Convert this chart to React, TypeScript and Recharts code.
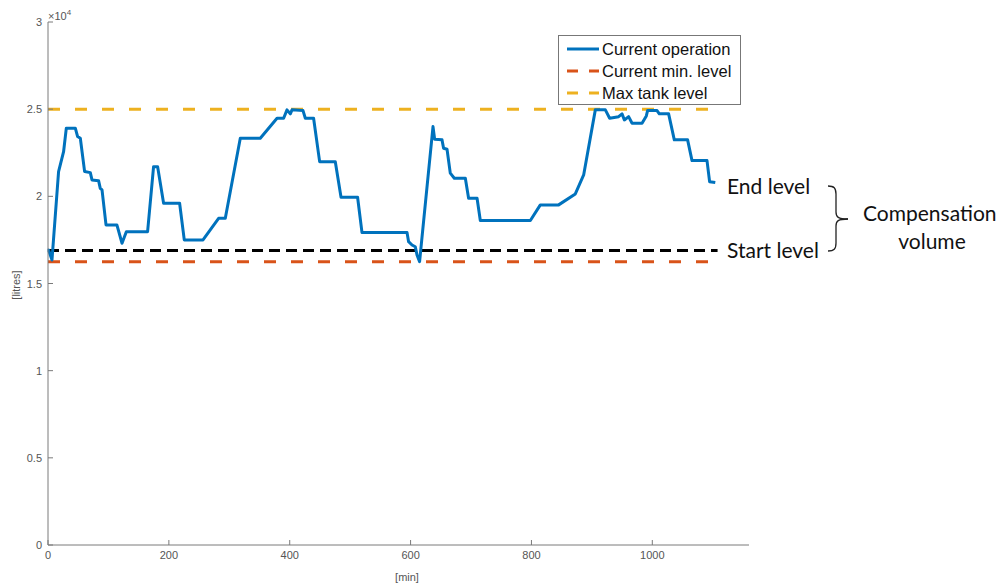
import React from 'react';
import { LineChart, Line, XAxis, YAxis } from 'recharts';

// time axis [min] and tank volume [litres]
const timeMin = [
  0, 1, 6.6, 17.5, 25.8, 30.3, 45.2, 49, 53.5, 60.6, 70, 72.8, 83.7, 86.5, 89.4, 96, 114,
  122.5, 129.6, 164.8, 174.7, 181.4, 191.3, 217.8, 225.5, 256.5, 282.3, 293.4, 318.2,
  351.3, 379, 389.9, 395.5, 401, 403.8, 422, 425.8, 439.5, 449.5, 475.4, 484.9, 512.3,
  519.6, 594.1, 596.7, 602.4, 607.8, 610.6, 614.9, 637.1, 639.8, 652, 654.6, 660.3,
  665.7, 672.4, 690.6, 696, 710, 715.4, 798.2, 814.7, 845, 872.6, 886.4, 905.7, 922.3,
  929.4, 944.3, 949.9, 953.8, 960.8, 966.5, 983, 990.1, 992.2, 1007.8, 1011.6, 1027,
  1036.4, 1058.4, 1065.7, 1090.5, 1094.8, 1104.2,
];
const tankLitres = [
  16900, 16920, 16350, 21420, 22560, 23910, 23910, 23430, 23330, 21420, 21360, 20940,
  20900, 20460, 20370, 18360, 18360, 17310, 17970, 17970, 21700, 21700, 19600, 19600,
  17500, 17500, 18740, 18740, 23330, 23330, 24480, 24480, 24960, 24730, 24960, 24920,
  24480, 24480, 21990, 21990, 19950, 19950, 17920, 17920, 17400, 17210, 17110, 16640,
  16250, 24000, 23280, 23240, 22760, 22700, 21330, 21040, 21040, 19890, 19890, 18610,
  18610, 19510, 19510, 20140, 21230, 24960, 24960, 24480, 24570, 24730, 24380, 24570,
  24190, 24190, 24610, 24920, 24920, 24730, 24730, 23240, 23240, 22050, 22050, 20840,
  20790,
];

const minLevel = 16250;
const maxLevel = 25000;
const startLevel = 16900;
const levelSpan = [0, 1100];
const startSpan = [0, 1108];

const xTicks = [0, 200, 400, 600, 800, 1000];
const yTicks = [0, 5000, 10000, 15000, 20000, 25000, 30000];

const operation = timeMin.map((t, i) => ({ t, v: tankLitres[i] }));
const flat = (span: number[], v: number) => span.map((t) => ({ t, v }));

const legendItems = [
  { name: 'Current operation', color: '#0072BD', dash: undefined },
  { name: 'Current min. level', color: '#D95319', dash: '11 11' },
  { name: 'Max tank level', color: '#EDB120', dash: '11 11' },
];

const axisColor = '#7a7a7a';
const tickFont = { fontFamily: 'Liberation Sans, Arial, sans-serif', fontSize: 11, fill: '#555' };

const XTick = (props: any) => {
  const { x, y, payload } = props;
  return (
    <g>
      <line x1={x} y1={y} x2={x} y2={y - 5} stroke={axisColor} />
      <text x={x} y={y + 14} textAnchor="middle" {...tickFont}>
        {payload.value}
      </text>
    </g>
  );
};

const YTick = (props: any) => {
  const { x, y, payload } = props;
  return (
    <g>
      <line x1={x} y1={y} x2={x + 5} y2={y} stroke={axisColor} />
      <text x={x - 6} y={y + 4} textAnchor="end" {...tickFont}>
        {payload.value / 10000}
      </text>
    </g>
  );
};

const textFont = 'Lato, "Open Sans", sans-serif';

export default function App() {
  return (
    <div style={{ position: 'absolute', left: 0, top: 0, width: 1006, height: 587, background: '#fff' }}>
      <LineChart
        width={1006}
        height={587}
        margin={{ top: 22, right: 257, bottom: 41, left: 47 }}
      >
        <XAxis
          type="number"
          dataKey="t"
          domain={[0, 1160]}
          ticks={xTicks}
          height={1}
          tickSize={0}
          tickMargin={0}
          stroke={axisColor}
          tick={<XTick />}
          allowDuplicatedCategory={false}
        />
        <YAxis
          type="number"
          domain={[0, 30000]}
          ticks={yTicks}
          width={1}
          tickSize={0}
          tickMargin={0}
          stroke={axisColor}
          tick={<YTick />}
        />
        <Line
          data={flat(levelSpan, maxLevel)}
          dataKey="v"
          stroke="#EDB120"
          strokeWidth={3}
          strokeDasharray="12 15"
          dot={false}
          isAnimationActive={false}
        />
        <Line
          data={flat(levelSpan, minLevel)}
          dataKey="v"
          stroke="#D95319"
          strokeWidth={3}
          strokeDasharray="12 15"
          dot={false}
          isAnimationActive={false}
        />
        <Line
          data={flat(startSpan, startLevel)}
          dataKey="v"
          stroke="#000"
          strokeWidth={3}
          strokeDasharray="11 6"
          dot={false}
          isAnimationActive={false}
        />
        <Line
          data={operation}
          dataKey="v"
          stroke="#0072BD"
          strokeWidth={3}
          strokeLinejoin="round"
          dot={false}
          isAnimationActive={false}
        />
      </LineChart>

      <div
        style={{
          position: 'absolute',
          left: 558,
          top: 35,
          width: 183,
          height: 70,
          border: '1px solid #777',
          background: '#fff',
          boxSizing: 'border-box',
          padding: '2px 0 0 8px',
          fontFamily: 'Liberation Sans, Arial, sans-serif',
          fontSize: 16.5,
          color: '#111',
        }}
      >
        {legendItems.map((item) => (
          <div key={item.name} style={{ display: 'flex', alignItems: 'center', height: 22 }}>
            <svg width={34} height={10} style={{ marginRight: 1 }}>
              <line
                x1={0}
                y1={5}
                x2={32}
                y2={5}
                stroke={item.color}
                strokeWidth={3}
                strokeDasharray={item.dash}
              />
            </svg>
            <span>{item.name}</span>
          </div>
        ))}
      </div>

      <svg
        width={1006}
        height={587}
        style={{ position: 'absolute', left: 0, top: 0, pointerEvents: 'none' }}
      >
        <text x={48} y={20} {...tickFont}>
          ×10
          <tspan dy={-5} fontSize={8}>4</tspan>
        </text>
        <text x={407} y={581} textAnchor="middle" {...tickFont}>
          [min]
        </text>
        <text
          x={0}
          y={0}
          transform="translate(20 285) rotate(-90)"
          textAnchor="middle"
          {...tickFont}
        >
          [litres]
        </text>

        <g fontFamily={textFont} fontSize={21} fill="#111">
          <text x={727} y={185} dominantBaseline="central">End level</text>
          <text x={727} y={249} dominantBaseline="central">Start level</text>
          <text x={863} y={212} dominantBaseline="central">Compensation</text>
          <text x={932} y={240} dominantBaseline="central" textAnchor="middle">volume</text>
        </g>
        <g fill="none" stroke="#222" strokeWidth={1.3}>
          <path d="M828 186 C834 186 836 188 836 194 L836 212 C836 217 838 219 848 219" />
          <path d="M828 251 C834 251 836 249 836 243 L836 226 C836 221 838 219 848 219" />
        </g>
      </svg>
    </div>
  );
}
